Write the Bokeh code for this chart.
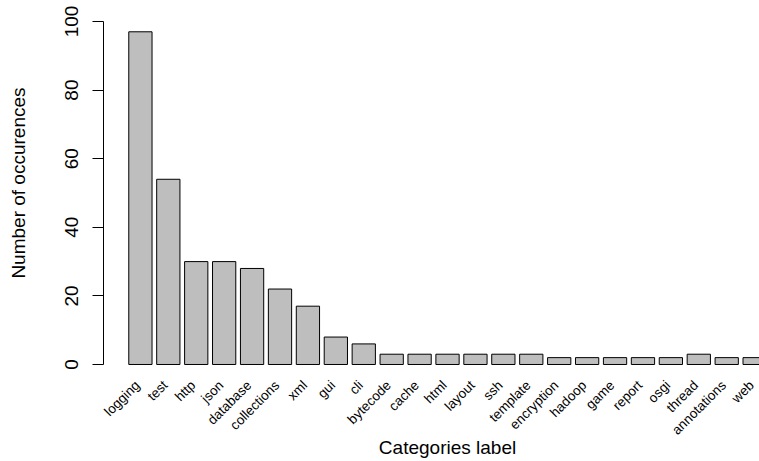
import math
from bokeh.plotting import figure
from bokeh.models import ColumnDataSource, LinearAxis, FixedTicker, Range1d
from bokeh.core.properties import value
from bokeh.embed import file_html
from bokeh.resources import INLINE

categories = ["logging", "test", "http", "json", "database", "collections",
              "xml", "gui", "cli", "bytecode", "cache", "html", "layout",
              "ssh", "template", "encryption", "hadoop", "game", "report",
              "osgi", "thread", "annotations", "web"]
counts = [97, 54, 30, 30, 28, 22, 17, 8, 6, 3, 3, 3, 3, 3, 3, 2, 2, 2, 2, 2,
          3, 2, 2]
y_ticks = [0, 20, 40, 60, 80, 100]
x_title = "Categories label"
y_title = "Number of occurences"

FONT = "Liberation Sans"

idx = list(range(len(categories)))
src = ColumnDataSource(dict(x=idx, top=counts, name=categories))

p = figure(width=759, height=461, output_backend="svg", toolbar_location=None,
           x_axis_location=None, y_axis_location=None,
           x_range=Range1d(-5.0107, 22.174), y_range=Range1d(-28.28, 106.12),
           min_border_left=0, min_border_right=0, min_border_top=0,
           min_border_bottom=0)
p.outline_line_color = None
p.grid.visible = False
p.background_fill_color = "white"
p.border_fill_color = "white"

p.vbar(x="x", top="top", bottom=0, width=1 / 1.2, source=src,
       fill_color="#BEBEBE", line_color="black", line_width=1)

# y axis pinned at the left edge of the plotting region
yaxis = LinearAxis(bounds=(0, 100), ticker=FixedTicker(ticks=y_ticks, minor_ticks=[]),
                   fixed_location=-1.3306)
yaxis.major_tick_out = 11
yaxis.major_tick_in = 0
yaxis.minor_tick_out = 0
yaxis.minor_tick_in = 0
yaxis.major_label_orientation = "vertical"
yaxis.major_label_standoff = 14
yaxis.major_label_text_font = FONT
yaxis.major_label_text_font_size = "19px"
yaxis.major_label_text_color = "black"
yaxis.axis_line_color = "black"
yaxis.major_tick_line_color = "black"
p.add_layout(yaxis, "left")

# y axis title
p.text(x=[-4.352], y=[52.9], text=[y_title], angle=math.pi / 2,
       text_align="center", text_baseline="middle", text_font=value(FONT),
       text_font_size="19px", text_color="black")

# rotated category labels (right end anchored just below each bar)
p.text(x="x", y=-5.39, text="name", source=src, angle=math.pi / 4,
       text_align="right", text_baseline="middle", x_offset=-3,
       text_font=value(FONT), text_font_size="13.5px", text_color="black")

# x axis title
p.text(x=[11.0], y=[-24.1], text=[x_title], text_align="center",
       text_baseline="middle", text_font=value(FONT),
       text_font_size="19px", text_color="black")

open("out.html", "w").write(file_html(p, INLINE))
